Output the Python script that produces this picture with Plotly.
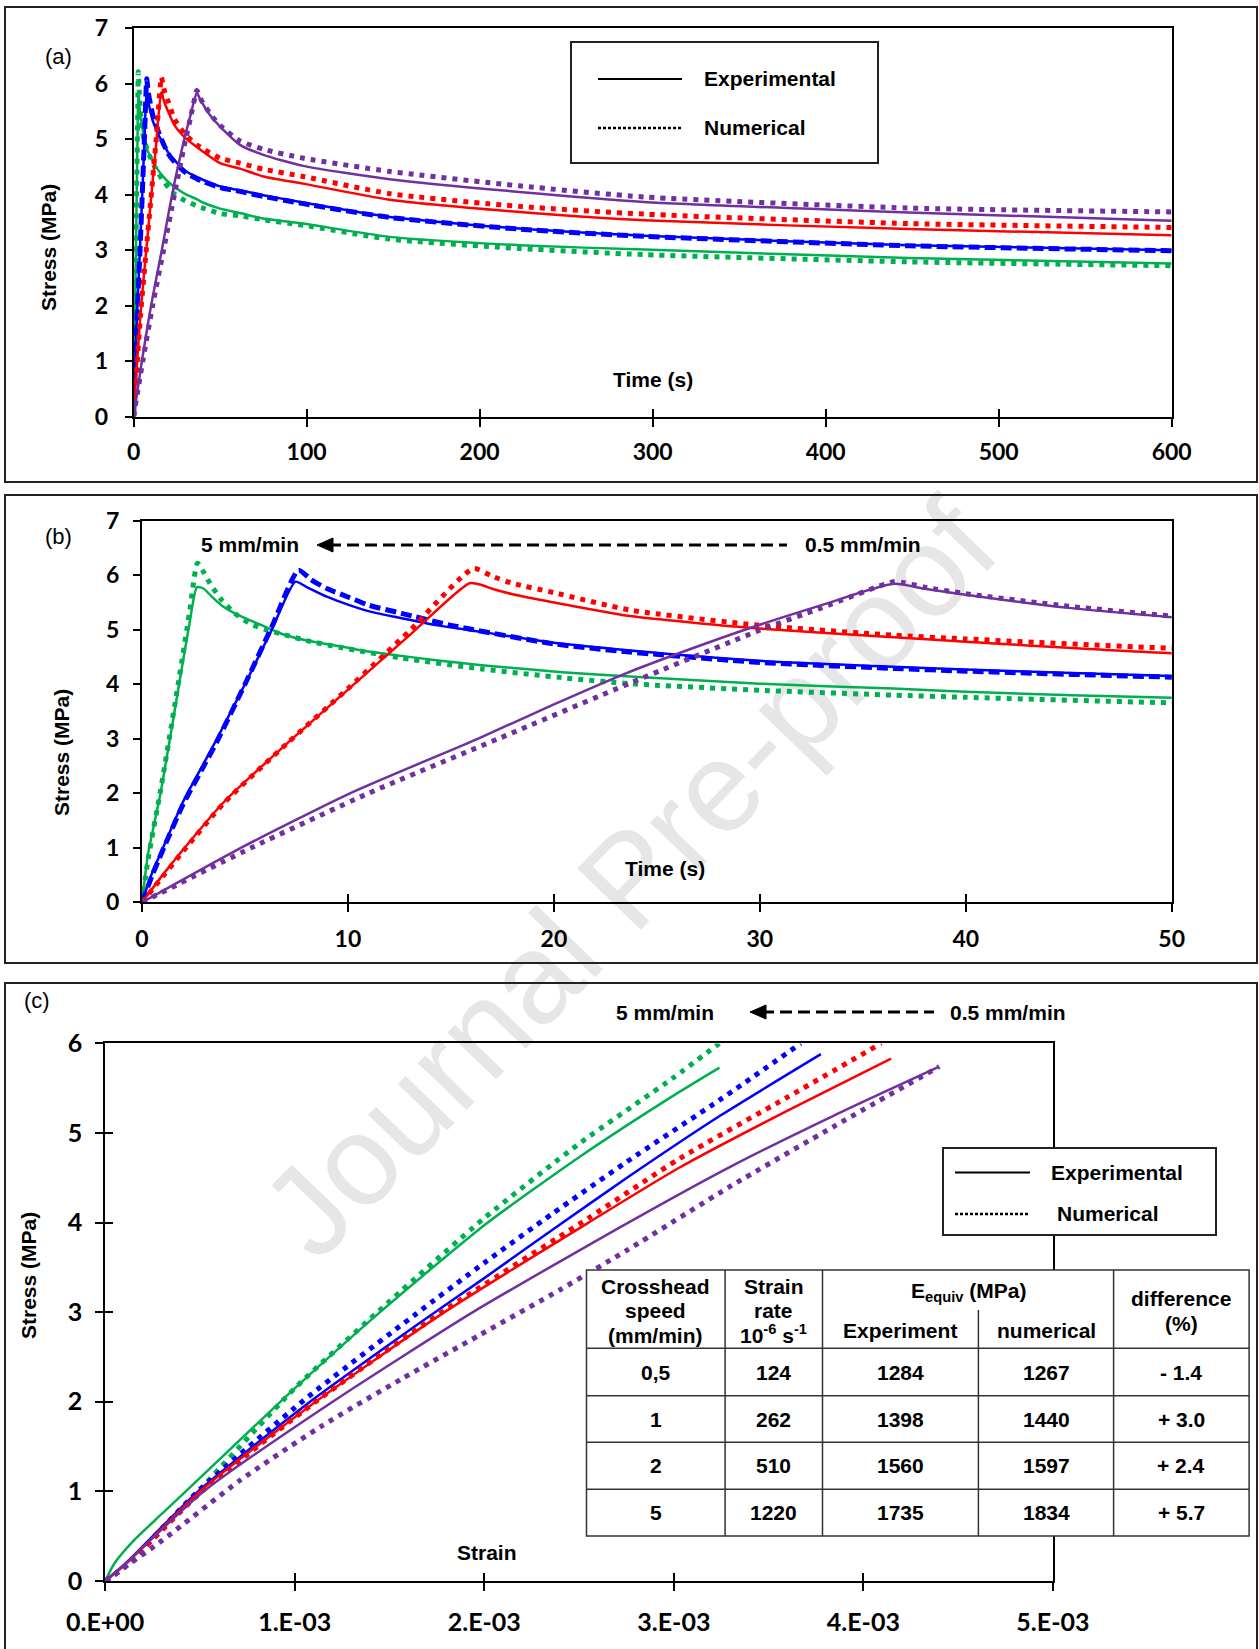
import plotly.graph_objects as go

W, H = 1259, 1649

# ---------------- DATA ----------------
# Panels (a) and (b): stress relaxation, time (s) vs stress (MPa)
t_green_exp = [0, 0.3, 0.9, 1.8, 2.3, 2.67, 3.0, 3.4, 3.85, 4.5, 5.2, 6.0, 6.8, 8.0, 9.7, 11.0, 12.6, 14.5, 16.5, 20.4,
               23.7, 30, 36.5, 40, 50, 61.5, 75, 98, 148, 223, 295, 448, 600]
s_green_exp = [0, 0.9, 2.0, 4.0, 5.1, 5.78, 5.75, 5.6, 5.45, 5.3, 5.18, 5.05, 4.92, 4.8, 4.69, 4.6, 4.52, 4.43, 4.35, 4.22,
               4.14, 4.01, 3.92, 3.86, 3.75, 3.67, 3.57, 3.48, 3.24, 3.09, 3.01, 2.86, 2.76]
t_green_num = [0, 0.3, 0.9, 1.8, 2.3, 2.7, 3.0, 3.3, 3.85, 4.5, 5.2, 6.0, 6.8, 8.0, 9.7, 12.6, 16.5, 20.4, 23.7, 30,
               36.5, 40, 50, 61.5, 75, 98, 148, 223, 295, 448, 600]
s_green_num = [0, 0.8, 2.05, 4.1, 5.3, 6.22, 6.05, 5.85, 5.55, 5.3, 5.12, 5.0, 4.92, 4.8, 4.67, 4.48, 4.28, 4.12, 4.01, 3.89,
               3.80, 3.76, 3.66, 3.62, 3.55, 3.45, 3.20, 3.03, 2.92, 2.79, 2.72]

t_blue_exp = [0, 0.5, 1.0, 2.0, 3.0, 3.64, 5.0, 6.3, 7.45, 8.0, 9.0, 10.0, 11.0, 12.6, 14.5, 16.5, 20.0, 23.7, 30, 36.5,
              40, 50, 61.5, 75, 98, 148, 223, 295, 448, 600]
s_blue_exp = [0, 0.55, 0.98, 1.85, 2.55, 3.0, 4.0, 5.0, 5.88, 5.78, 5.6, 5.46, 5.34, 5.21, 5.07, 4.96, 4.76, 4.62, 4.43,
              4.32, 4.27, 4.15, 4.08, 3.99, 3.86, 3.60, 3.39, 3.26, 3.09, 3.00]
t_blue_num = [0, 0.5, 1.0, 2.0, 3.0, 3.64, 5.0, 6.3, 7.6, 8.2, 9.0, 10.0, 11.0, 12.6, 15, 20, 23.7, 30, 36.5, 40, 50,
              61.5, 75, 98, 148, 223, 295, 448, 600]
s_blue_num = [0, 0.5, 0.95, 1.8, 2.5, 2.95, 4.0, 5.05, 6.09, 5.92, 5.75, 5.6, 5.45, 5.3, 5.08, 4.74, 4.59, 4.40, 4.29, 4.24,
              4.13, 4.06, 3.97, 3.84, 3.59, 3.38, 3.25, 3.08, 2.99]

t_red_exp = [0, 1, 2, 4, 7, 10, 13, 15.9, 16.5, 17, 18, 20, 23.7, 30, 36.5, 40, 50, 61.5, 75, 98,
             148, 223, 295, 448, 600]
s_red_exp = [0, 0.5, 0.97, 1.85, 2.9, 3.9, 4.9, 5.85, 5.82, 5.75, 5.65, 5.5, 5.25, 5.02, 4.86, 4.78, 4.57, 4.47, 4.33, 4.20,
             3.91, 3.69, 3.54, 3.38, 3.27]
t_red_num = [0, 1, 2, 4, 7, 10, 13, 16.1, 17, 18, 20, 23.7, 30, 36.5, 40, 50, 61.5, 75, 98, 148,
             223, 295, 448, 600]
s_red_num = [0, 0.47, 0.94, 1.83, 2.9, 3.92, 4.98, 6.12, 5.98, 5.85, 5.68, 5.36, 5.08, 4.90, 4.83, 4.66, 4.57, 4.46, 4.33, 4.02,
             3.79, 3.65, 3.48, 3.41]

t_purple_exp = [0, 4.8, 10.1, 16.3, 20, 23.5, 26.3, 29.6, 33, 36.5, 38, 40, 45, 50, 61.5, 75, 98, 148, 223, 295, 448, 600]
s_purple_exp = [0, 1.0, 2.0, 3.0, 3.63, 4.2, 4.6, 5.04, 5.45, 5.84, 5.75, 5.64, 5.40, 5.23, 4.90, 4.72, 4.52, 4.28, 4.05,
                3.87, 3.68, 3.53]
t_purple_num = [0, 5.3, 11, 17.3, 23.7, 30, 33, 36.5, 37, 38, 40, 45, 50, 61.5, 75, 98, 148, 223, 295, 448, 600]
s_purple_num = [0, 1.0, 2.0, 3.0, 4.02, 4.99, 5.4, 5.88, 5.86, 5.78, 5.66, 5.43, 5.25, 4.97, 4.82, 4.66, 4.42, 4.16, 3.96,
                3.76, 3.69]

# Panel (c): strain vs stress (MPa)
e_green_exp = [0, 0.05e-3, 0.15e-3, 0.3e-3, 0.5e-3, 1.0e-3, 1.45e-3, 2.0e-3, 2.5e-3, 3.0e-3, 3.241e-3]
c_green_exp = [0, 0.2, 0.45, 0.75, 1.15, 2.15, 3.0, 3.97, 4.73, 5.42, 5.73]
e_green_num = [0, 0.1e-3, 0.3e-3, 0.5e-3, 1.0e-3, 1.5e-3, 2.0e-3, 2.5e-3, 3.0e-3, 3.24e-3]
c_green_num = [0, 0.15, 0.58, 1.02, 2.15, 3.12, 4.05, 4.88, 5.62, 6.0]

e_blue_exp = [0, 0.1e-3, 0.49e-3, 1.05e-3, 1.64e-3, 2.0e-3, 2.36e-3, 2.753e-3, 3.25e-3, 3.776e-3]
c_blue_exp = [0, 0.18, 1.0, 1.95, 2.85, 3.38, 3.92, 4.5, 5.2, 5.88]
e_blue_num = [0, 0.1e-3, 0.49e-3, 1.05e-3, 1.64e-3, 2.0e-3, 2.36e-3, 2.753e-3, 3.25e-3, 3.67e-3]
c_blue_num = [0, 0.15, 1.0, 2.02, 2.98, 3.55, 4.1, 4.68, 5.38, 6.0]

e_red_exp = [0, 0.1e-3, 0.5e-3, 1.11e-3, 1.79e-3, 2.55e-3, 3.035e-3, 3.6e-3, 4.146e-3]
c_red_exp = [0, 0.17, 1.0, 2.0, 3.0, 4.0, 4.62, 5.25, 5.83]
e_red_num = [0, 0.1e-3, 0.5e-3, 1.11e-3, 1.79e-3, 2.55e-3, 3.035e-3, 3.6e-3, 4.094e-3]
c_red_num = [0, 0.15, 0.98, 2.0, 3.02, 4.05, 4.72, 5.4, 6.0]

e_purple_exp = [0, 0.1e-3, 0.52e-3, 1.2e-3, 1.94e-3, 2.76e-3, 3.295e-3, 3.85e-3, 4.40e-3]
c_purple_exp = [0, 0.18, 1.0, 2.0, 3.0, 4.0, 4.62, 5.2, 5.74]
e_purple_num = [0, 0.3e-3, 0.71e-3, 1.135e-3, 1.56e-3, 1.98e-3, 2.40e-3, 2.76e-3, 3.295e-3, 3.85e-3, 4.40e-3]
c_purple_num = [0, 0.45, 1.12, 1.72, 2.25, 2.75, 3.25, 3.7, 4.4, 5.08, 5.74]

# Axis ticks
time_ticks_a = [0, 100, 200, 300, 400, 500, 600]
time_ticks_b = [0, 10, 20, 30, 40, 50]
stress_ticks_ab = [0, 1, 2, 3, 4, 5, 6, 7]
strain_ticks = [0, 1e-3, 2e-3, 3e-3, 4e-3, 5e-3]
strain_ticktext = ["0.E+00", "1.E-03", "2.E-03", "3.E-03", "4.E-03", "5.E-03"]
stress_ticks_c = [0, 1, 2, 3, 4, 5, 6]

# Table (panel c)
tbl_speed = ["0,5", "1", "2", "5"]
tbl_rate = ["124", "262", "510", "1220"]
tbl_e_exp = ["1284", "1398", "1560", "1735"]
tbl_e_num = ["1267", "1440", "1597", "1834"]
tbl_diff = ["- 1.4", "+ 3.0", "+ 2.4", "+ 5.7"]

colors = ["#00B050", "#0000FF", "#FF0000", "#7030A0"]

# ---------------- helpers ----------------
def px(x):
    return x / W


def py(y):
    return 1 - y / H


DOT = "5px,6px"
DASH_BLUE = "11px,5px"
SM = 0.6

fig = go.Figure()

relax = [
    (t_green_exp, s_green_exp, t_green_num, s_green_num, DOT),
    (t_blue_exp, s_blue_exp, t_blue_num, s_blue_num, DASH_BLUE),
    (t_red_exp, s_red_exp, t_red_num, s_red_num, DOT),
    (t_purple_exp, s_purple_exp, t_purple_num, s_purple_num, DOT),
]
for (te, se, tn, sn, dash), col in zip(relax, colors):
    for xa, ya in [("x", "y"), ("x2", "y2")]:
        fig.add_trace(go.Scatter(x=tn, y=sn, mode="lines", xaxis=xa, yaxis=ya,
                                 line=dict(color=col, width=5, dash=dash, shape="spline", smoothing=SM),
                                 showlegend=False, hoverinfo="skip"))
        fig.add_trace(go.Scatter(x=te, y=se, mode="lines", xaxis=xa, yaxis=ya,
                                 line=dict(color=col, width=2.5, shape="spline", smoothing=SM),
                                 showlegend=False, hoverinfo="skip"))

strain_series = [
    (e_green_exp, c_green_exp, e_green_num, c_green_num),
    (e_blue_exp, c_blue_exp, e_blue_num, c_blue_num),
    (e_red_exp, c_red_exp, e_red_num, c_red_num),
    (e_purple_exp, c_purple_exp, e_purple_num, c_purple_num),
]
for (ee, ce, en, cn), col in zip(strain_series, colors):
    fig.add_trace(go.Scatter(x=en, y=cn, mode="lines", xaxis="x3", yaxis="y3",
                             line=dict(color=col, width=5, dash=DOT, shape="spline", smoothing=SM),
                             showlegend=False, hoverinfo="skip"))
    fig.add_trace(go.Scatter(x=ee, y=ce, mode="lines", xaxis="x3", yaxis="y3",
                             line=dict(color=col, width=2.5, shape="spline", smoothing=SM),
                             showlegend=False, hoverinfo="skip"))

# invisible helpers so the overlay (inner-tick) axes get drawn
for xa, ya in [("x4", "y"), ("x5", "y2"), ("x6", "y3"), ("x3", "y4")]:
    fig.add_trace(go.Scatter(x=e_green_exp[:1], y=c_green_exp[:1], xaxis=xa, yaxis=ya, mode="markers",
                             marker=dict(opacity=0), showlegend=False, hoverinfo="skip"))

tick_ab = dict(family="Lato", size=23, color="black", weight="bold")
tick_c = dict(family="Lato", size=25, color="black", weight="bold")

base = dict(showline=True, linewidth=2, linecolor="black", mirror=True, ticks="outside", ticklen=8,
            tickwidth=2, tickcolor="black", showgrid=False, zeroline=False, automargin=False)
inner = dict(ticks="inside", ticklen=8, tickwidth=2, tickcolor="black", showticklabels=False,
             showline=False, showgrid=False, zeroline=False, automargin=False)

fig.update_layout(
    width=W, height=H, margin=dict(l=0, r=0, t=0, b=0, pad=0, autoexpand=False),
    paper_bgcolor="white", plot_bgcolor="rgba(0,0,0,0)",
    font=dict(family="Liberation Sans", color="black"),
    showlegend=False,
    xaxis=dict(base, domain=[px(133.6), px(1171.7)], range=[0, 600], tickvals=time_ticks_a, anchor="y",
               tickfont=tick_ab, ticklabelstandoff=6),
    yaxis=dict(base, domain=[py(416.5), py(28.4)], range=[0, 7], tickvals=stress_ticks_ab, anchor="x",
               tickfont=tick_ab, ticklen=7, ticklabelstandoff=12),
    xaxis4=dict(inner, overlaying="x", anchor="y", range=[0, 600], tickvals=time_ticks_a),
    xaxis2=dict(base, domain=[px(142), px(1171.7)], range=[0, 50], tickvals=time_ticks_b, anchor="y2",
                tickfont=tick_ab, ticklabelstandoff=7),
    yaxis2=dict(base, domain=[py(902.4), py(520.6)], range=[0, 7], tickvals=stress_ticks_ab, anchor="x2",
                tickfont=tick_ab, ticklen=7, ticklabelstandoff=9),
    xaxis5=dict(inner, overlaying="x2", anchor="y2", range=[0, 50], tickvals=time_ticks_b),
    xaxis3=dict(base, domain=[px(105.2), px(1052.9)], range=[0, 5e-3], tickvals=strain_ticks,
                ticktext=strain_ticktext, anchor="y3", tickfont=tick_c, ticklabelstandoff=10),
    yaxis3=dict(base, domain=[py(1580.9), py(1043.4)], range=[0, 6], tickvals=stress_ticks_c, anchor="x3",
                tickfont=tick_c, ticklabelstandoff=8),
    xaxis6=dict(inner, overlaying="x3", anchor="y3", range=[0, 5e-3], tickvals=strain_ticks),
    yaxis4=dict(inner, overlaying="y3", anchor="x3", side="left", range=[0, 6], tickvals=stress_ticks_c),
)

shapes = []
annos = []


def rect(x0, y0, x1, y1, lw=2, fill="rgba(0,0,0,0)", color="#222", layer="above"):
    shapes.append(dict(type="rect", xref="paper", yref="paper", x0=px(x0), x1=px(x1), y0=py(y0), y1=py(y1),
                       line=dict(color=color, width=lw), fillcolor=fill, layer=layer))


def hline(x0, x1, y, lw=2, color="black", dash="solid"):
    shapes.append(dict(type="line", xref="paper", yref="paper", x0=px(x0), x1=px(x1), y0=py(y), y1=py(y),
                       line=dict(color=color, width=lw, dash=dash), layer="above"))


def vline(x, y0, y1, lw=1.5, color="#333"):
    shapes.append(dict(type="line", xref="paper", yref="paper", x0=px(x), x1=px(x), y0=py(y0), y1=py(y1),
                       line=dict(color=color, width=lw), layer="above"))


def text(x, y, s, size=21, bold=True, angle=0, xanchor="center", family="Liberation Sans"):
    annos.append(dict(xref="paper", yref="paper", x=px(x), y=py(y), text=s, showarrow=False,
                      xanchor=xanchor, yanchor="middle", textangle=angle,
                      font=dict(family=family, size=size, color="black", weight="bold" if bold else "normal")))


def arrow_left(x_tail, x_tip, y):
    hline(x_tip + 12, x_tail, y, lw=3, dash="12px,6px")
    path = "M {:.5f},{:.5f} L {:.5f},{:.5f} L {:.5f},{:.5f} Z".format(
        px(x_tip), py(y), px(x_tip + 16), py(y - 7), px(x_tip + 16), py(y + 7))
    shapes.append(dict(type="path", xref="paper", yref="paper", path=path, fillcolor="black",
                       line=dict(color="black", width=1), layer="above"))


# watermark
shapes.append(dict(type="rect", xref="paper", yref="paper", x0=px(320), x1=px(920), y0=py(1160), y1=py(580),
                   line=dict(width=0), fillcolor="rgba(0,0,0,0)", layer="below",
                   label=dict(text="Journal Pre-proof", textangle=-46, textposition="middle center",
                              font=dict(family="Liberation Sans", size=128, color="#e6e6e6"))))

# panel frames
rect(5, 7, 1257, 482, lw=2)
rect(5, 495, 1257, 963, lw=2)
rect(5, 983, 1257, 1700, lw=2)

# panel (a) legend
rect(571, 42, 878, 163, lw=2, fill="white")
hline(598, 682, 79, lw=2)
hline(598, 682, 128, lw=2.5, dash="3px,2px")
text(702, 78, "Experimental", xanchor="left")
text(702, 128, "Numerical", xanchor="left")

# panel labels / axis titles
text(58, 57, "(a)", size=22, bold=False)
text(58, 537, "(b)", size=22, bold=False)
text(37, 1001, "(c)", size=22, bold=False)
text(48, 248, "Stress (MPa)", angle=-90)
text(62, 753, "Stress (MPa)", angle=-90)
text(28, 1276, "Stress (MPa)", angle=-90)
text(653, 380, "Time (s)")
text(665, 868, "Time (s)")
text(487, 1552, "Strain")

# speed arrows
text(250, 545, "5 mm/min")
text(863, 545, "0.5 mm/min")
arrow_left(787, 317, 545)
text(665, 1012, "5 mm/min")
text(1008, 1012, "0.5 mm/min")
arrow_left(934, 750, 1012)

# panel (c) legend
rect(943, 1148, 1216, 1235, lw=2, fill="white")
hline(955, 1030, 1172.5, lw=2)
hline(955, 1030, 1214, lw=2.5, dash="3px,2px")
text(1117, 1172, "Experimental")
text(1108, 1213, "Numerical")

# table
cols = [586.5, 725.1, 822.5, 978.4, 1113.6, 1249.1]
rows = [1270, 1348.3, 1395.7, 1442.3, 1489.3, 1536]
rect(cols[0], rows[0], cols[-1], rows[-1], lw=1.5, fill="white", color="#333")
for r in rows[1:-1]:
    hline(cols[0], cols[-1], r, lw=1.5, color="#333")
for c in [cols[1], cols[2], cols[4]]:
    vline(c, rows[0], rows[-1])
vline(cols[3], 1310, rows[-1])

cc = [(cols[i] + cols[i + 1]) / 2 for i in range(5)]
text(cc[0], 1286, "Crosshead")
text(cc[0], 1310, "speed")
text(cc[0], 1335, "(mm/min)")
text(cc[1], 1286, "Strain")
text(cc[1], 1310, "rate")
text(cc[1], 1334, "10<sup>-6</sup> s<sup>-1</sup>")
text((cols[2] + cols[4]) / 2, 1292, "E<sub>equiv</sub> (MPa)")
text(cc[2], 1330, "Experiment")
text(cc[3], 1330, "numerical")
text(cc[4], 1298, "difference")
text(cc[4], 1323, "(%)")
for i in range(4):
    yc = (rows[i + 1] + rows[i + 2]) / 2
    for j, vals in enumerate([tbl_speed, tbl_rate, tbl_e_exp, tbl_e_num, tbl_diff]):
        text(cc[j], yc, vals[i])

fig.update_layout(shapes=shapes, annotations=annos)
fig.write_html("out.html")
